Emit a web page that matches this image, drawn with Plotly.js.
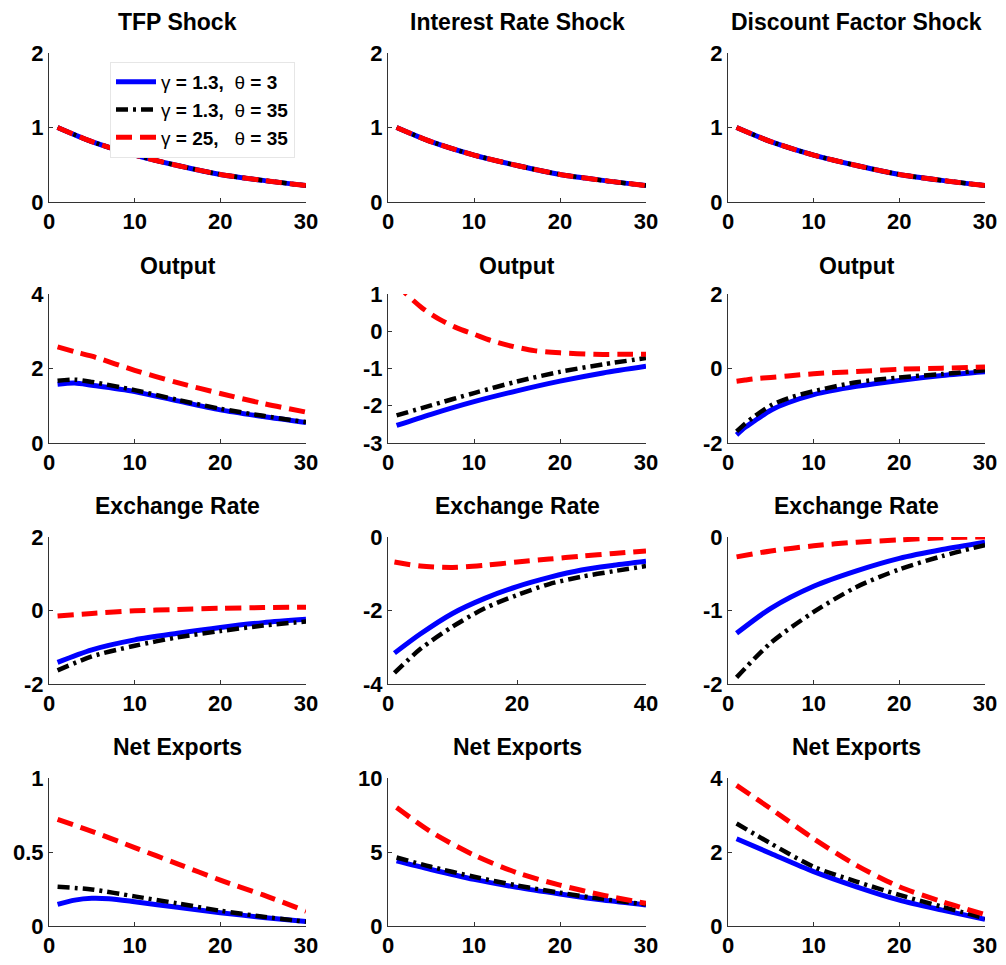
<!DOCTYPE html>
<html>
<head>
<meta charset="utf-8">
<script src="https://cdn.plot.ly/plotly-3.0.1.min.js"></script>
<style>html,body{margin:0;padding:0;background:#fff;}#chart{width:1006px;height:965px;}</style>
</head>
<body>
<div id="chart"></div>
<script>
// ---------- data ----------
const seriesNames = [
  "\u03b3<b> = 1.3,</b>\u00a0 \u03b8<b> = 3</b>",
  "\u03b3<b> = 1.3,</b>\u00a0 \u03b8<b> = 35</b>",
  "\u03b3<b> = 25,</b>\u00a0\u00a0 \u03b8<b> = 35</b>"
];
const columnTitles = ["TFP Shock", "Interest Rate Shock", "Discount Factor Shock"];
const rowTitles = ["Output", "Exchange Rate", "Net Exports"];

// Row 1: shocks
const shockX = [1, 5, 10, 15, 20, 25, 30];
const tfpShock = [1.0, 0.81, 0.63, 0.49, 0.37, 0.29, 0.22];
const rateShock = [1.0, 0.81, 0.63, 0.49, 0.37, 0.29, 0.22];
const discShock = [1.0, 0.81, 0.63, 0.49, 0.37, 0.29, 0.22];

// Row 2: output
const outTfpX = [1, 3, 5, 10, 15, 20, 25, 30];
const outTfpBlue = [1.58, 1.61, 1.55, 1.38, 1.13, 0.89, 0.71, 0.55];
const outTfpBlack = [1.67, 1.70, 1.64, 1.42, 1.16, 0.92, 0.73, 0.56];
const outTfpRed = [2.58, 2.45, 2.33, 1.95, 1.62, 1.33, 1.06, 0.83];

const outRateX = [1, 5, 10, 15, 20, 25, 30];
const outRateBlue = [-2.53, -2.23, -1.89, -1.60, -1.34, -1.12, -0.94];
const outRateBlack = [-2.26, -1.99, -1.66, -1.35, -1.09, -0.89, -0.72];
const outRateRedX = [1, 2, 4, 6, 8, 10, 12, 14, 17, 20, 24, 27, 30];
const outRateRed = [1.3, 1.03, 0.62, 0.32, 0.09, -0.08, -0.25, -0.38, -0.52, -0.58, -0.62, -0.62, -0.62];

const outDiscX = [1, 2, 3, 5, 7, 10, 15, 20, 25, 30];
const outDiscBlue = [-1.78, -1.58, -1.42, -1.12, -0.92, -0.70, -0.48, -0.32, -0.19, -0.09];
const outDiscBlack = [-1.69, -1.48, -1.30, -0.99, -0.80, -0.61, -0.37, -0.24, -0.15, -0.05];
const outDiscRed = [-0.34, -0.31, -0.28, -0.24, -0.20, -0.14, -0.08, -0.02, 0.01, 0.04];

// Row 3: exchange rate
const exTfpX = [1, 5, 10, 15, 20, 25, 30];
const exTfpBlue = [-1.41, -1.07, -0.80, -0.62, -0.46, -0.33, -0.24];
const exTfpBlack = [-1.63, -1.25, -0.96, -0.73, -0.56, -0.41, -0.30];
const exTfpRed = [-0.15, -0.08, -0.01, 0.03, 0.06, 0.08, 0.09];

const exRateX = [1, 5, 10, 15, 20, 25, 30, 35, 40];
const exRateBlue = [-3.16, -2.64, -2.08, -1.67, -1.35, -1.10, -0.90, -0.77, -0.66];
const exRateBlack = [-3.70, -3.05, -2.44, -1.94, -1.58, -1.28, -1.08, -0.93, -0.79];
const exRateRed = [-0.68, -0.79, -0.83, -0.77, -0.68, -0.60, -0.52, -0.45, -0.38];

const exDiscX = [1, 5, 10, 15, 20, 25, 30];
const exDiscBlue = [-1.31, -0.97, -0.67, -0.46, -0.29, -0.17, -0.07];
const exDiscBlack = [-1.91, -1.44, -1.02, -0.68, -0.44, -0.26, -0.11];
const exDiscRed = [-0.27, -0.19, -0.12, -0.07, -0.04, -0.01, 0.0];

// Row 4: net exports
const nxTfpBlueX = [1, 3, 5, 7, 10, 15, 20, 25, 30];
const nxTfpBlue = [0.146, 0.175, 0.187, 0.184, 0.164, 0.126, 0.09, 0.058, 0.031];
const nxTfpX = [1, 5, 10, 15, 20, 25, 30];
const nxTfpBlack = [0.265, 0.247, 0.20, 0.153, 0.103, 0.063, 0.029];
const nxTfpRed = [0.72, 0.64, 0.53, 0.42, 0.31, 0.21, 0.10];

const nxRateX = [1, 5, 10, 15, 20, 25, 30];
const nxRateBlue = [4.40, 3.82, 3.15, 2.61, 2.16, 1.75, 1.42];
const nxRateBlack = [4.63, 4.00, 3.33, 2.74, 2.25, 1.82, 1.46];
const nxRateRed = [8.0, 6.36, 4.79, 3.60, 2.76, 2.09, 1.53];

const nxDiscX = [1, 5, 10, 15, 20, 25, 30];
const nxDiscBlue = [2.36, 1.96, 1.47, 1.06, 0.70, 0.43, 0.18];
const nxDiscBlack = [2.77, 2.23, 1.60, 1.20, 0.84, 0.52, 0.21];
const nxDiscRed = [3.80, 3.17, 2.36, 1.64, 1.06, 0.66, 0.31];

// Axis tick values
const yTicks = [
  [[0,1,2],[0,1,2],[0,1,2]],
  [[0,2,4],[-3,-2,-1,0,1],[-2,0,2]],
  [[-2,0,2],[-4,-2,0],[-2,-1,0]],
  [[0,0.5,1],[0,5,10],[0,2,4]]
];
const xTicks30 = [0,10,20,30];
const xTicks40 = [0,20,40];

// ---------- panels ----------
const panels = [
  {b:[shockX,tfpShock], k:[shockX,tfpShock], r:[shockX,tfpShock]},
  {b:[shockX,rateShock], k:[shockX,rateShock], r:[shockX,rateShock]},
  {b:[shockX,discShock], k:[shockX,discShock], r:[shockX,discShock]},
  {b:[outTfpX,outTfpBlue], k:[outTfpX,outTfpBlack], r:[outTfpX,outTfpRed]},
  {b:[outRateX,outRateBlue], k:[outRateX,outRateBlack], r:[outRateRedX,outRateRed]},
  {b:[outDiscX,outDiscBlue], k:[outDiscX,outDiscBlack], r:[outDiscX,outDiscRed]},
  {b:[exTfpX,exTfpBlue], k:[exTfpX,exTfpBlack], r:[exTfpX,exTfpRed]},
  {b:[exRateX,exRateBlue], k:[exRateX,exRateBlack], r:[exRateX,exRateRed]},
  {b:[exDiscX,exDiscBlue], k:[exDiscX,exDiscBlack], r:[exDiscX,exDiscRed]},
  {b:[nxTfpBlueX,nxTfpBlue], k:[nxTfpX,nxTfpBlack], r:[nxTfpX,nxTfpRed]},
  {b:[nxRateX,nxRateBlue], k:[nxRateX,nxRateBlack], r:[nxRateX,nxRateRed]},
  {b:[nxDiscX,nxDiscBlue], k:[nxDiscX,nxDiscBlack], r:[nxDiscX,nxDiscRed]}
];

const W = 1006, H = 965;
const colPx = [[49,306],[388,646],[728,985]];
const rowPx = [[53,202],[294,443],[537,684],[778,926]];
const titleY = [22, 266, 506, 747];

const FONT = "Liberation Sans, Arial, sans-serif";
const lineStyles = [
  {color:"#0000ff", width:5, dash:"solid"},
  {color:"#000000", width:4.5, dash:"12px,5px,3px,5px"},
  {color:"#ff0000", width:5, dash:"16px,8px"}
];

const traces = [];
const layout = {
  width: W, height: H,
  margin: {l:0, r:0, t:0, b:0},
  paper_bgcolor: "#fff", plot_bgcolor: "#fff",
  showlegend: true,
  font: {family: FONT, color: "#000"},
  annotations: [],
  legend: {
    x: 110/W, y: 1 - 62/H, xanchor: "left", yanchor: "top",
    bgcolor: "#ffffff", bordercolor: "#e6e6e6", borderwidth: 1,
    font: {family: FONT, size: 19, color: "#000"},
    tracegroupgap: 0, itemwidth: 40
  }
};

panels.forEach((p, i) => {
  const row = Math.floor(i / 3), col = i % 3;
  const idx = i === 0 ? "" : String(i + 1);
  const xa = "x" + idx, ya = "y" + idx;
  ["b","k","r"].forEach((k, s) => {
    traces.push({
      type: "scatter", mode: "lines",
      x: p[k][0], y: p[k][1],
      xaxis: xa, yaxis: ya,
      name: seriesNames[s],
      showlegend: i === 0,
      line: Object.assign({shape: "spline", smoothing: 0.8}, lineStyles[s])
    });
  });
  const yt = yTicks[row][col];
  const xt = (row === 2 && col === 1) ? xTicks40 : xTicks30;
  const axCommon = {
    showgrid: false, zeroline: false, showline: true,
    linecolor: "#333", linewidth: 1,
    ticks: "inside", ticklen: 4, tickcolor: "#333", tickwidth: 1,
    tickfont: {family: FONT, size: 22, weight: "bold", color: "#000"},
    fixedrange: true
  };
  layout["xaxis" + idx] = Object.assign({}, axCommon, {
    domain: [colPx[col][0]/W, colPx[col][1]/W],
    range: [xt[0], xt[xt.length-1]],
    tickvals: xt, ticktext: xt.map(String),
    anchor: ya
  });
  layout["yaxis" + idx] = Object.assign({}, axCommon, {
    domain: [1 - rowPx[row][1]/H, 1 - rowPx[row][0]/H],
    range: [yt[0], yt[yt.length-1]],
    tickvals: yt, ticktext: yt.map(String),
    anchor: xa
  });
  const title = row === 0 ? columnTitles[col] : rowTitles[row - 1];
  layout.annotations.push({
    text: title, xref: "paper", yref: "paper",
    x: (colPx[col][0] + colPx[col][1]) / 2 / W,
    y: 1 - titleY[row] / H,
    xanchor: "center", yanchor: "middle", showarrow: false,
    font: {family: FONT, size: 23, weight: "bold", color: "#000"}
  });
});

Plotly.newPlot("chart", traces, layout, {displayModeBar: false, staticPlot: true});
</script>
</body>
</html>
